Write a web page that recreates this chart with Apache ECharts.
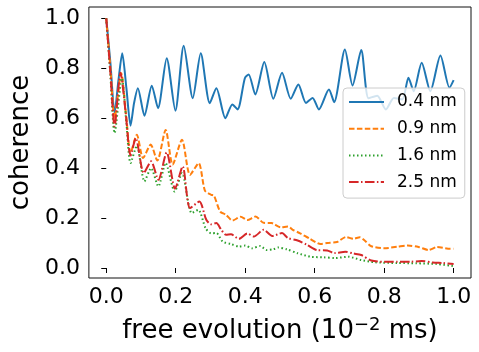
<!DOCTYPE html>
<html>
<head>
<meta charset="utf-8">
<script src="https://cdn.jsdelivr.net/npm/echarts@6/dist/echarts.min.js"></script>
<style>
  html, body { margin: 0; padding: 0; background: #fff; }
  #chart { width: 479px; height: 352px; }
</style>
</head>
<body>
<div id="chart"></div>
<script>
// values (free evolution in 1e-2 ms, coherence)
const seriesNames = ["0.4 nm", "0.9 nm", "1.6 nm", "2.5 nm"];
const xTicks = [0, 0.2, 0.4, 0.6, 0.8, 1.0];
const yTicks = [0, 0.2, 0.4, 0.6, 0.8, 1.0];

const t04 = [0, 0.012, 0.024, 0.035, 0.046, 0.058, 0.070, 0.080, 0.091, 0.110, 0.131, 0.149, 0.174, 0.199, 0.223, 0.249, 0.272, 0.298, 0.317, 0.343, 0.363, 0.378, 0.399, 0.410, 0.429, 0.455, 0.481, 0.506, 0.531, 0.553, 0.575, 0.594, 0.612, 0.641, 0.656, 0.687, 0.709, 0.734, 0.755, 0.780, 0.805, 0.828, 0.852, 0.870, 0.885, 0.908, 0.933, 0.962, 0.988, 1.0];
const c04 = [1.0, 0.82, 0.62, 0.75, 0.86, 0.72, 0.57, 0.66, 0.72, 0.61, 0.73, 0.64, 0.84, 0.63, 0.89, 0.68, 0.86, 0.66, 0.72, 0.60, 0.655, 0.635, 0.76, 0.775, 0.695, 0.825, 0.678, 0.782, 0.678, 0.735, 0.661, 0.681, 0.635, 0.715, 0.664, 0.875, 0.731, 0.873, 0.68, 0.69, 0.635, 0.681, 0.675, 0.762, 0.708, 0.822, 0.708, 0.851, 0.722, 0.752];

const t09 = [0, 0.012, 0.024, 0.043, 0.058, 0.070, 0.088, 0.106, 0.128, 0.147, 0.171, 0.191, 0.218, 0.241, 0.266, 0.284, 0.302, 0.310, 0.328, 0.345, 0.363, 0.387, 0.406, 0.430, 0.453, 0.476, 0.502, 0.523, 0.537, 0.558, 0.586, 0.617, 0.636, 0.664, 0.690, 0.711, 0.730, 0.744, 0.763, 0.800, 0.838, 0.868, 0.899, 0.928, 0.952, 0.990, 1.0];
const c09 = [1.0, 0.80, 0.60, 0.78, 0.60, 0.46, 0.534, 0.44, 0.494, 0.43, 0.553, 0.414, 0.514, 0.373, 0.42, 0.31, 0.293, 0.29, 0.226, 0.213, 0.19, 0.205, 0.192, 0.206, 0.181, 0.18, 0.163, 0.166, 0.153, 0.139, 0.117, 0.096, 0.10, 0.104, 0.124, 0.117, 0.123, 0.11, 0.087, 0.079, 0.085, 0.09, 0.084, 0.072, 0.084, 0.077, 0.077];

const t16 = [0, 0.012, 0.024, 0.045, 0.058, 0.070, 0.088, 0.110, 0.129, 0.150, 0.171, 0.197, 0.218, 0.246, 0.265, 0.286, 0.302, 0.317, 0.335, 0.359, 0.382, 0.400, 0.420, 0.443, 0.462, 0.481, 0.495, 0.520, 0.551, 0.589, 0.626, 0.659, 0.697, 0.734, 0.772, 0.838, 0.893, 0.950, 1.0];
const c16 = [1.0, 0.77, 0.54, 0.76, 0.58, 0.42, 0.49, 0.347, 0.40, 0.327, 0.42, 0.306, 0.38, 0.22, 0.233, 0.159, 0.139, 0.14, 0.106, 0.096, 0.086, 0.09, 0.079, 0.088, 0.072, 0.075, 0.082, 0.075, 0.059, 0.045, 0.043, 0.04, 0.045, 0.032, 0.023, 0.02, 0.019, 0.016, 0.008];

const t25 = [0, 0.012, 0.024, 0.041, 0.056, 0.070, 0.085, 0.108, 0.129, 0.150, 0.174, 0.198, 0.220, 0.241, 0.268, 0.288, 0.302, 0.317, 0.331, 0.345, 0.359, 0.382, 0.406, 0.425, 0.453, 0.478, 0.506, 0.523, 0.551, 0.579, 0.606, 0.636, 0.657, 0.688, 0.712, 0.734, 0.763, 0.800, 0.838, 0.875, 0.908, 0.940, 0.970, 1.0];
const c25 = [1.0, 0.78, 0.567, 0.782, 0.62, 0.45, 0.52, 0.38, 0.427, 0.353, 0.463, 0.318, 0.407, 0.24, 0.266, 0.193, 0.175, 0.18, 0.153, 0.133, 0.135, 0.117, 0.138, 0.126, 0.153, 0.128, 0.14, 0.12, 0.11, 0.092, 0.072, 0.07, 0.06, 0.065, 0.058, 0.052, 0.03, 0.025, 0.025, 0.025, 0.028, 0.022, 0.02, 0.016];

const pairs = (xs, ys) => xs.map((x, i) => [x, ys[i]]);

const chart = echarts.init(document.getElementById("chart"), null, { renderer: "canvas" });
const font = "DejaVu Sans";

function line(name, data, color, type) {
  return {
    name, type: "line", data,
    symbol: "none", smooth: 0.25,
    lineStyle: { color, width: 2, type, cap: "butt" },
    itemStyle: { color },
    animation: false,
  };
}

chart.setOption({
  animation: false,
  grid: { left: 81, right: 8, top: 7, bottom: 74, show: true, borderColor: "#111", borderWidth: 1 },
  xAxis: {
    type: "value", min: -0.05, max: 1.05,
    name: "{a|free evolution (10}{s|\u22122}{a| ms)}",
    nameLocation: "middle", nameGap: 38,
    nameTextStyle: {
      rich: {
        a: { fontFamily: font, fontSize: 26, color: "#000" },
        s: { fontFamily: font, fontSize: 18, color: "#000", padding: [0, 0, 12, 0] },
      },
    },
    axisLine: { show: false },
    splitLine: { show: false },
    axisTick: { show: true, inside: false, length: 5, customValues: xTicks, lineStyle: { color: "#000", width: 1 } },
    axisLabel: { customValues: xTicks, margin: 8, fontFamily: font, fontSize: 22, color: "#000",
                 formatter: (v) => v.toFixed(1) },
  },
  yAxis: {
    type: "value", min: -0.04, max: 1.045,
    name: "coherence", nameLocation: "middle", nameGap: 46,
    nameTextStyle: { fontFamily: font, fontSize: 26, color: "#000" },
    axisLine: { show: false },
    splitLine: { show: false },
    axisTick: { show: true, inside: false, length: 5, customValues: yTicks, lineStyle: { color: "#000", width: 1 } },
    axisLabel: { customValues: yTicks, margin: 9, fontFamily: font, fontSize: 22, color: "#000",
                 formatter: (v) => v.toFixed(1) },
  },
  legend: {
    orient: "vertical", left: 343, top: 88,
    padding: [4, 8, 6, 5],
    itemWidth: 35, itemHeight: 14, itemGap: 6.7,
    itemStyle: { opacity: 0 },
    backgroundColor: "rgba(255,255,255,0.8)",
    borderColor: "#cccccc", borderWidth: 1, borderRadius: 4,
    textStyle: { fontFamily: font, fontSize: 17, color: "#000", lineHeight: 20, padding: [0, 0, 0, 8] },
    data: seriesNames,
  },
  series: [
    line(seriesNames[0], pairs(t04, c04), "#1f77b4", "solid"),
    line(seriesNames[1], pairs(t09, c09), "#ff7f0e", [5.5, 2.4]),
    line(seriesNames[2], pairs(t16, c16), "#2ca02c", [1.5, 2.5]),
    line(seriesNames[3], pairs(t25, c25), "#d62728", [9.6, 2.4, 1.5, 2.4]),
  ],
});
</script>
</body>
</html>
